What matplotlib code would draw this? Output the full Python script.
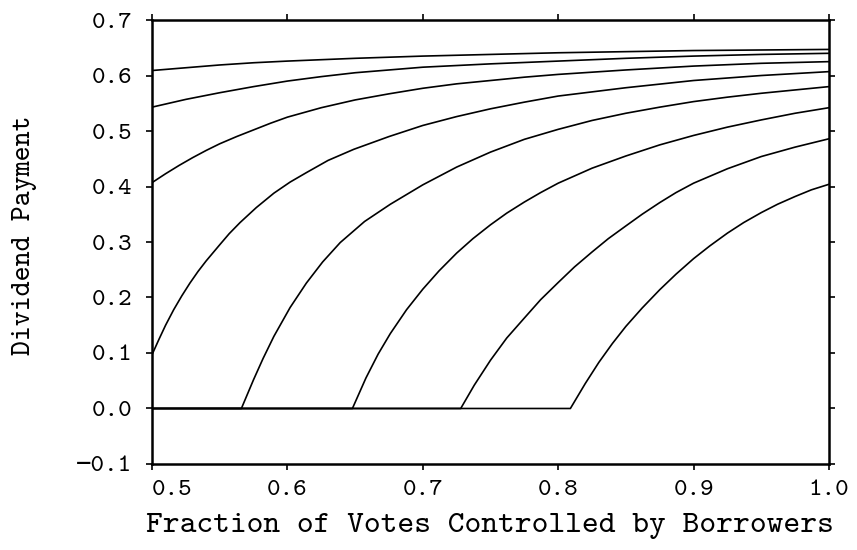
import matplotlib
matplotlib.use("Agg")
import matplotlib.pyplot as plt

# fraction of votes controlled by borrowers (x) and dividend payment (y)
x_c1 = [0.5, 0.525, 0.55, 0.575, 0.6, 0.65, 0.7, 0.75, 0.8, 0.85, 0.9, 0.95, 1.0]
y_c1 = [0.609, 0.614, 0.619, 0.623, 0.626, 0.631, 0.635, 0.638, 0.641, 0.643, 0.645, 0.646, 0.647]

x_c2 = [0.5, 0.525, 0.55, 0.575, 0.6, 0.625, 0.65, 0.675, 0.7, 0.75, 0.8, 0.85, 0.9, 0.95, 1.0]
y_c2 = [0.543, 0.557, 0.569, 0.580, 0.590, 0.598, 0.605, 0.610, 0.615, 0.621, 0.626, 0.631, 0.635, 0.638, 0.640]

x_c3 = [0.5, 0.51, 0.52, 0.53, 0.54, 0.55, 0.5625, 0.575, 0.5875, 0.6, 0.625, 0.65, 0.675,
        0.7, 0.725, 0.75, 0.775, 0.8, 0.85, 0.9, 0.95, 1.0]
y_c3 = [0.407, 0.423, 0.438, 0.452, 0.465, 0.477, 0.490, 0.502, 0.514, 0.525, 0.542, 0.556, 0.567,
        0.577, 0.585, 0.591, 0.597, 0.602, 0.610, 0.617, 0.622, 0.625]

x_c4 = [0.5, 0.505, 0.51, 0.516, 0.522, 0.528, 0.534, 0.54, 0.55, 0.557, 0.565, 0.577, 0.59,
        0.602, 0.614, 0.63, 0.649, 0.675, 0.7, 0.725, 0.75, 0.775, 0.8, 0.85, 0.9, 0.95, 1.0]
y_c4 = [0.097, 0.124, 0.150, 0.178, 0.203, 0.226, 0.247, 0.266, 0.295, 0.315, 0.335, 0.362, 0.388,
        0.408, 0.425, 0.447, 0.467, 0.490, 0.510, 0.526, 0.540, 0.552, 0.563, 0.578, 0.591, 0.600, 0.607]

x_c5 = [0.5, 0.566, 0.575, 0.582, 0.59, 0.602, 0.614, 0.626, 0.639, 0.657, 0.676, 0.7, 0.725, 0.75,
        0.775, 0.8, 0.825, 0.85, 0.875, 0.9, 0.925, 0.95, 0.975, 1.0]
y_c5 = [0.0, 0.0, 0.052, 0.090, 0.130, 0.182, 0.226, 0.264, 0.299, 0.337, 0.368, 0.403, 0.435, 0.462,
        0.485, 0.503, 0.519, 0.532, 0.543, 0.553, 0.561, 0.568, 0.574, 0.580]

x_c6 = [0.5, 0.648, 0.658, 0.667, 0.676, 0.688, 0.7, 0.712, 0.725, 0.737, 0.75, 0.762, 0.775,
        0.787, 0.8, 0.825, 0.85, 0.875, 0.9, 0.925, 0.95, 0.975, 1.0]
y_c6 = [0.0, 0.0, 0.055, 0.098, 0.135, 0.178, 0.215, 0.248, 0.280, 0.306, 0.331, 0.352, 0.372,
        0.389, 0.406, 0.433, 0.455, 0.475, 0.492, 0.507, 0.520, 0.532, 0.542]

x_c7 = [0.5, 0.728, 0.738, 0.75, 0.762, 0.775, 0.787, 0.8, 0.812, 0.825, 0.837, 0.85, 0.862,
        0.875, 0.887, 0.9, 0.925, 0.95, 0.975, 1.0]
y_c7 = [0.0, 0.0, 0.042, 0.087, 0.127, 0.163, 0.196, 0.227, 0.255, 0.282, 0.306, 0.329, 0.350,
        0.371, 0.389, 0.406, 0.432, 0.454, 0.471, 0.486]

x_c8 = [0.5, 0.809, 0.82, 0.83, 0.84, 0.85, 0.862, 0.875, 0.887, 0.9, 0.912, 0.925, 0.937,
        0.95, 0.962, 0.975, 0.987, 1.0]
y_c8 = [0.0, 0.0, 0.045, 0.083, 0.117, 0.148, 0.181, 0.214, 0.242, 0.270, 0.293, 0.316, 0.335,
        0.353, 0.368, 0.382, 0.394, 0.404]

curves = [(x_c1, y_c1), (x_c2, y_c2), (x_c3, y_c3), (x_c4, y_c4),
          (x_c5, y_c5), (x_c6, y_c6), (x_c7, y_c7), (x_c8, y_c8)]

x_ticks = [0.5, 0.6, 0.7, 0.8, 0.9, 1.0]
y_ticks = [-0.1, 0.0, 0.1, 0.2, 0.3, 0.4, 0.5, 0.6, 0.7]

plt.rcParams['font.family'] = ['cmtt10', 'DejaVu Sans Mono']

fig = plt.figure(figsize=(8.57, 5.5), dpi=100)
ax = fig.add_axes([0.1774, 0.1564, 0.7899, 0.8072])

for xs, ys in curves:
    ax.plot(xs, ys, color="black", lw=1.2)

ax.set_xlim(0.5, 1.0)
ax.set_ylim(-0.1, 0.7)
ax.set_xticks(x_ticks)
ax.set_yticks(y_ticks)
ax.set_xticklabels(["%.1f" % v for v in x_ticks])
ax.set_yticklabels(["%.1f" % v if v >= 0 else "\u2212%.1f" % abs(v) for v in y_ticks])
ax.get_xticklabels()[0].set_ha("left")

for s in ax.spines.values():
    s.set_linewidth(1.8)
ax.tick_params(direction="out", length=4.5, width=1.2, top=True, right=True, labelsize=18.5)
ax.tick_params(axis="x", pad=7)
ax.tick_params(axis="y", pad=10)

fig.text(490 / 857, 1 - 526 / 550, "Fraction of Votes Controlled by Borrowers",
         ha="center", va="center", fontsize=23)
fig.text(25 / 857, 1 - 235 / 550, "Dividend Payment", rotation=90,
         ha="center", va="center", fontsize=20.5)

fig.savefig("out.png", dpi=100)
